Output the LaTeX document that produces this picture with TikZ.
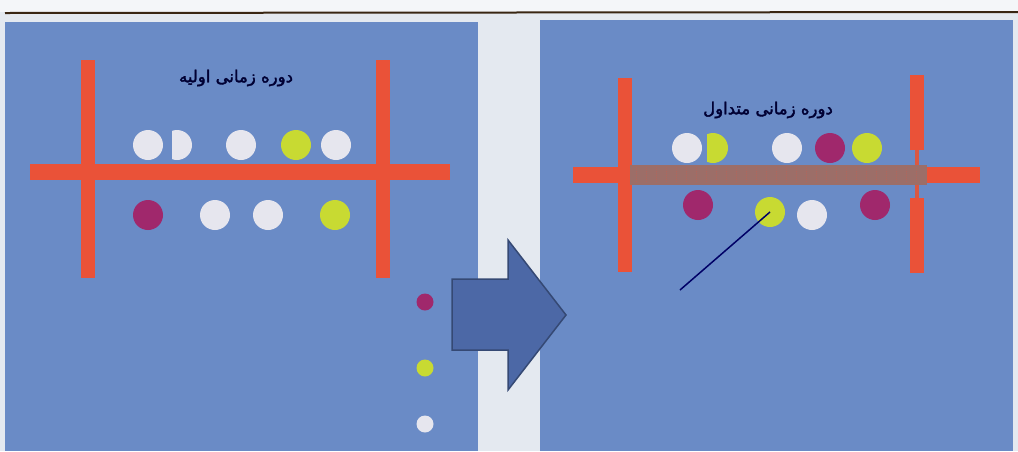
\documentclass[tikz,border=0pt]{standalone}
\usepackage{fontspec}
\newfontfamily\arabicfont[Script=Arabic,FakeBold=2]{DejaVu Sans}
\TeXXeTstate=1
\usetikzlibrary{positioning}
\definecolor{panelblue}{HTML}{6A8BC6}
\definecolor{barred}{HTML}{EA5238}
\definecolor{ballwhite}{HTML}{E6E6EE}
\definecolor{ballyellow}{HTML}{C8DA32}
\definecolor{ballpurple}{HTML}{A0286C}
\definecolor{bandbrown}{HTML}{9C6E68}
\definecolor{arrowblue}{HTML}{4C68A6}
\definecolor{pagegrey}{HTML}{E4E9F0}

\begin{document}
\begin{tikzpicture}[x=1pt,y=-1pt,
panel/.style={fill=panelblue},
bar/.style={barred,line width=14pt},
ball/.style={circle,minimum size=30pt,inner sep=0pt},
dot/.style={circle,minimum size=17pt,inner sep=0pt},
title/.style={font=\fontsize{16.5}{18}\selectfont,text=black!80!blue}]
\useasboundingbox (0,0) rectangle (1018,451);
\fill[pagegrey] (0,0) rectangle (1018,451);
\fill[white!60!pagegrey] (0,0) rectangle (1018,12);
\draw[black!70!brown,line width=2pt] (5,13) -- (1018,12);
% panels
\fill[panel] (5,22) rectangle (478,451);
\fill[panel] (540,20) rectangle (1013,451);
% left frame
\draw[bar] (88,60) -- (88,278);
\draw[bar] (383,60) -- (383,278);
\draw[barred,line width=16pt] (30,172) -- (450,172);
\node[title] (t1) at (236,78) {\arabicfont\beginR دوره زمانی اولیه\endR};
% left balls
\foreach \x/\c [count=\i] in {148/ballwhite,241/ballwhite,296/ballyellow,336/ballwhite}
  \node[ball,fill=\c] (a\i) at (\x,145) {};
\begin{scope}
\clip (172,120) rectangle (200,170);
\fill[ballwhite] (177,145) circle (15pt);
\end{scope}
\foreach \x/\c [count=\i] in {148/ballpurple,215/ballwhite,268/ballwhite,335/ballyellow}
  \node[ball,fill=\c] (b\i) at (\x,215) {};
\node[dot,fill=ballpurple] (d1) at (425,302) {};
\node[dot,fill=ballyellow] (d2) at (425,368) {};
\node[dot,fill=ballwhite] (d3) at (425,424) {};
% arrow
\draw[arrowblue!70!black,fill=arrowblue,line width=1.5pt,line join=miter]
  (452,279) -- (508,279) -- (508,240) -- (566,315) -- (508,390) -- (508,350) -- (452,350) -- cycle;
% right frame
\draw[bar] (625,78) -- (625,272);
\draw[bar] (917,75) -- (917,150);
\draw[bar] (917,198) -- (917,273);
\draw[barred!80!bandbrown,line width=4pt] (917,150) -- (917,198);
\draw[barred,line width=16pt] (573,175) -- (980,175);
\fill[bandbrown] (630,165) rectangle (927,185);
\foreach \x in {636,646,...,924}
  \draw[bandbrown!70!barred,line width=1pt,densely dotted] (\x,167) -- (\x,183);
\node[title] (t2) at (768,110) {\arabicfont\beginR دوره زمانی متداول\endR};
% right balls
\foreach \x/\c [count=\i] in {687/ballwhite,787/ballwhite,830/ballpurple,867/ballyellow}
  \node[ball,fill=\c] (c\i) at (\x,148) {};
\begin{scope}
\clip (707,120) rectangle (740,175);
\fill[ballyellow] (713,148) circle (15pt);
\end{scope}
\node[ball,fill=ballpurple] (e1) at (698,205) {};
\node[ball,fill=ballyellow] (e2) at (770,212) {};
\node[ball,fill=ballwhite] (e3) at (812,215) {};
\node[ball,fill=ballpurple] (e4) at (875,205) {};
\coordinate (p) at (680,290);
\draw[black!60!blue,line width=1.5pt] (e2.center) -- (p);
\end{tikzpicture}
\end{document}
